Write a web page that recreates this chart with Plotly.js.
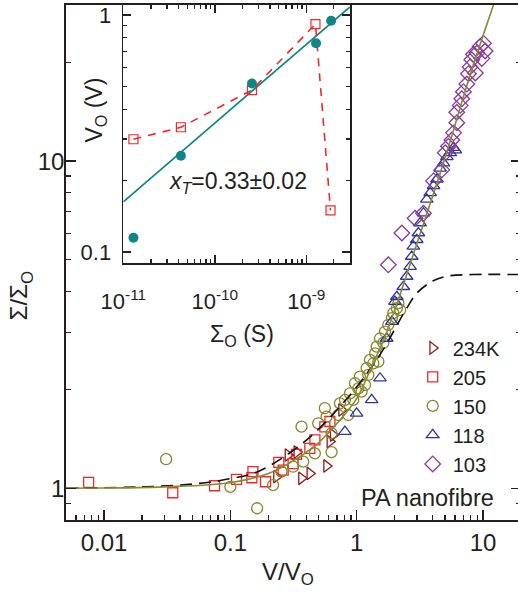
<!DOCTYPE html>
<html>
<head>
<meta charset="utf-8">
<script src="https://cdn.plot.ly/plotly-3.0.1.min.js"></script>
<style>
html,body{margin:0;padding:0;overflow:hidden;background:#fff;}
#chart{width:521px;height:595px;}
</style>
</head>
<body>
<div id="chart"></div>
<script>
// ---------- Main panel data (V/V_O , Σ/Σ_O) ----------
const seriesNames = ["234K", "205", "150", "118", "103"];

const x234 = [0.232, 0.286, 0.336, 0.366, 0.426, 0.578, 0.614, 0.652, 0.76];
const y234 = [1.085, 1.264, 1.29, 1.073, 1.11, 1.17, 1.39, 1.455, 1.735];

const x205 = [0.00755, 0.035, 0.075, 0.112, 0.148, 0.151, 0.19, 0.242, 0.262, 0.314, 0.334, 0.426, 0.467, 0.56, 0.614];
const y205 = [1.043, 0.969, 1.018, 1.065, 1.077, 1.124, 1.047, 1.2, 1.137, 1.19, 1.27, 1.325, 1.405, 1.54, 1.6];

const x150 = [0.031, 0.1, 0.163, 0.218, 0.254, 0.314, 0.377, 0.366, 0.467, 0.496, 0.56, 0.578, 0.633, 0.633,
              0.715, 0.737, 0.808, 0.858, 0.885, 0.94, 0.97, 1.03, 1.06, 1.095, 1.164, 1.2, 1.236, 1.275,
              1.355, 1.4, 1.44, 1.485, 1.53, 1.626, 1.677, 1.78, 1.9, 1.95, 2.08, 2.21, 2.14];
const y150 = [1.227, 1.01, 0.869, 1.023, 1.124, 1.164, 1.206, 1.543, 1.279, 1.58, 1.757, 1.656, 1.473, 1.29,
              1.675, 1.818, 1.864, 1.675, 1.95, 1.864, 2.094, 2.02, 2.195, 1.975, 2.07, 2.33, 2.22, 2.47,
              2.41, 2.585, 2.71, 2.44, 2.87, 2.78, 3.01, 3.16, 3.31, 3.43, 3.55, 3.51, 3.68];

const x118 = [0.807, 1.0, 1.315, 1.53, 1.73, 1.9, 2.01, 2.08, 2.34, 2.49, 2.65, 2.73, 2.81, 2.99, 3.08, 3.18,
              3.38, 3.59, 3.82, 4.06, 4.32, 4.58, 4.87, 5.18, 5.5, 5.85, 6.04];
const y118 = [1.49, 1.695, 1.864, 2.17, 2.87, 3.23, 3.72, 3.85, 4.13, 4.44, 4.76, 5.11, 5.49, 5.75, 6.03, 6.47,
              6.93, 7.64, 8.0, 8.4, 8.8, 9.5, 9.86, 10.3, 10.6, 11.0, 10.8];

const x103 = [1.78, 2.28, 2.9, 3.38, 4.06, 4.72, 5.03, 5.33, 5.67, 5.85, 6.2, 6.2, 6.6, 6.8, 7.0, 7.45, 7.67,
              7.9, 8.16, 8.42, 8.7, 8.95, 9.5, 9.8, 10.1, 10.4];
const y103 = [4.82, 6.03, 6.69, 6.93, 8.7, 9.4, 10.6, 11.1, 11.6, 12.2, 13.1, 14.1, 14.8, 15.5, 16.3, 17.2, 18.5,
              19.4, 20.4, 21.2, 18.6, 21.4, 22.4, 20.6, 22.9, 21.7];

// solid (olive) fit curve
const fitX = [0.005, 0.01, 0.03, 0.1, 0.2, 0.3, 0.5, 0.7, 1.0, 1.3, 1.7, 2.1, 3, 5, 8, 12.1, 13];
const fitY = [1.0, 1.002, 1.01, 1.04, 1.11, 1.2, 1.38, 1.58, 1.88, 2.33, 2.95, 3.7, 5.6, 10.2, 18.6, 30, 32.6];

// dashed (black) curve
const dashX = [0.005, 0.02, 0.05, 0.1, 0.17, 0.375, 0.74, 1.44, 2.49, 3.0, 4.0, 5.2, 8.4, 20];
const dashY = [1.0, 1.01, 1.03, 1.07, 1.13, 1.375, 1.78, 2.47, 3.55, 3.95, 4.3, 4.45, 4.5, 4.5];

// ---------- Inset data (Σ_O , V_O) ----------
const sigmaFilled = [1.29e-11, 4.26e-11, 2.55e-10, 1.28e-9, 1.87e-9];
const vFilled = [0.115, 0.255, 0.514, 0.759, 0.944];
const sigmaOpen = [1.29e-11, 4.26e-11, 2.55e-10, 1.26e-9, 1.84e-9];
const vOpen = [0.299, 0.336, 0.482, 0.914, 0.150];
const powerSigma = [1e-11, 3e-9];
const powerV = [0.163, 1.08];

// tick labels
const mainXTicks = [0.01, 0.1, 1, 10];
const mainXTickText = ["0.01", "0.1", "1", "10"];
const mainYTicks = [1, 10];
const mainYTickText = ["1", "10"];
const insetXTicks = [1e-11, 1e-10, 1e-9];
const insetXTickText = ["10<sup>-11</sup>", "10<sup>-10</sup>", "10<sup>-9</sup>"];
const insetYTicks = [0.1, 1];
const insetYTickText = ["0.1", "1"];

function minorTicks(lo, hi) {
  const out = [];
  for (let e = lo; e <= hi; e++) {
    for (let m = 2; m <= 9; m++) out.push(m * Math.pow(10, e));
  }
  return out;
}

const ink = "#231f20";
const FONT = "Liberation Sans, Arial, sans-serif";

const colors = {
  "234K": "#8e1b1b",
  "205": "#f2262b",
  "150": "#86862c",
  "118": "#2c36a3",
  "103": "#8a3a9c",
  teal: "#108585",
  red: "#f2262b",
  olive: "#8a8a30"
};

const mk = (x, y, name, symbol, size) => ({
  x, y, name, type: "scatter", mode: "markers",
  marker: { symbol, size, color: colors[name], line: { color: colors[name], width: 1.3 } },
  xaxis: "x", yaxis: "y", cliponaxis: true
});

const traces = [
  mk(x234, y234, "234K", "triangle-right-open", 11),
  mk(x205, y205, "205", "square-open", 10),
  mk(x150, y150, "150", "circle-open", 11),
  mk(x118, y118, "118", "triangle-up-open", 11),
  mk(x103, y103, "103", "diamond-open", 12),
  { x: dashX, y: dashY, type: "scatter", mode: "lines", showlegend: false,
    line: { color: "#111", width: 1.6, dash: "12px,7px", shape: "spline" }, xaxis: "x", yaxis: "y" },
  { x: fitX, y: fitY, type: "scatter", mode: "lines", showlegend: false,
    line: { color: colors.olive, width: 1.6, shape: "spline" }, xaxis: "x", yaxis: "y" },
  // inset
  { x: powerSigma, y: powerV, type: "scatter", mode: "lines", showlegend: false,
    line: { color: colors.teal, width: 1.6 }, xaxis: "x2", yaxis: "y2" },
  { x: sigmaOpen, y: vOpen, type: "scatter", mode: "lines+markers", showlegend: false,
    line: { color: colors.red, width: 1.6, dash: "8px,7px" },
    marker: { symbol: "square-open", size: 9, color: colors.red, line: { color: colors.red, width: 1.2 } },
    xaxis: "x2", yaxis: "y2" },
  { x: sigmaFilled, y: vFilled, type: "scatter", mode: "markers", showlegend: false,
    marker: { symbol: "circle", size: 10, color: colors.teal },
    xaxis: "x2", yaxis: "y2" }
];

const axBase = {
  type: "log", showgrid: false, zeroline: false, showline: true,
  linecolor: ink, linewidth: 1.8, ticks: "inside", tickcolor: ink, tickwidth: 1.5,
  tickmode: "array"
};

const layout = {
  width: 521, height: 595,
  margin: { l: 66, r: 0, t: 5, b: 75 },
  paper_bgcolor: "#fff", plot_bgcolor: "rgba(0,0,0,0)",
  font: { family: FONT, color: ink, size: 22 },
  showlegend: true,
  legend: {
    x: 0.762, y: 0.372, xanchor: "left", yanchor: "top",
    bgcolor: "rgba(0,0,0,0)", borderwidth: 0,
    font: { family: FONT, size: 20, color: ink },
    itemsizing: "trace", traceorder: "normal"
  },
  xaxis: Object.assign({}, axBase, {
    domain: [0, 1], anchor: "y",
    range: [Math.log10(0.005), Math.log10(20)],
    mirror: true, ticklen: 10,
    tickvals: mainXTicks, ticktext: mainXTickText,
    tickfont: { family: FONT, size: 24, color: ink },
    minor: { tickmode: "array", tickvals: minorTicks(-3, 1), ticks: "inside", ticklen: 5, tickwidth: 1.3, tickcolor: ink }
  }),
  yaxis: Object.assign({}, axBase, {
    domain: [0, 1], anchor: "x",
    range: [Math.log10(0.8), Math.log10(30)],
    mirror: "ticks", ticklen: 10,
    tickvals: mainYTicks, ticktext: mainYTickText,
    tickfont: { family: FONT, size: 24, color: ink },
    ticklabelstandoff: -5,
    minor: { tickmode: "array", tickvals: minorTicks(-1, 1).concat([0.8, 0.9]), ticks: "inside", ticklen: 5, tickwidth: 1.3, tickcolor: ink }
  }),
  xaxis2: Object.assign({}, axBase, {
    domain: [0.126, 0.624], anchor: "y2",
    range: [-11, Math.log10(3e-9)],
    mirror: "ticks", ticklen: 8,
    tickvals: insetXTicks, ticktext: insetXTickText,
    tickfont: { family: FONT, size: 22, color: ink },
    ticklabelstandoff: 18,
    minor: { tickmode: "array", tickvals: minorTicks(-11, -9), ticks: "inside", ticklen: 4, tickwidth: 1.3, tickcolor: ink }
  }),
  yaxis2: Object.assign({}, axBase, {
    domain: [0.499, 1], anchor: "x2",
    range: [Math.log10(0.09), Math.log10(1.1)],
    mirror: "ticks", ticklen: 8,
    tickvals: insetYTicks, ticktext: insetYTickText,
    tickfont: { family: FONT, size: 22, color: ink },
    ticklabelstandoff: 6,
    minor: { tickmode: "array", tickvals: minorTicks(-2, 0), ticks: "inside", ticklen: 4, tickwidth: 1.3, tickcolor: ink }
  }),
  annotations: [
    { xref: "paper", yref: "paper", x: 0.487, y: -0.103, xanchor: "center", yanchor: "middle",
      text: "V/V<sub>O</sub>", showarrow: false, font: { family: FONT, size: 24, color: ink } },
    { xref: "paper", yref: "paper", x: -0.099, y: 0.436, xanchor: "center", yanchor: "middle", textangle: -90,
      text: "Σ/Σ<sub>O</sub>", showarrow: false, font: { family: FONT, size: 24, color: ink } },
    { xref: "paper", yref: "paper", x: 0.066, y: 0.795, xanchor: "center", yanchor: "middle", textangle: -90,
      text: "V<sub>O</sub> (V)", showarrow: false, font: { family: FONT, size: 23, color: ink } },
    { xref: "paper", yref: "paper", x: 0.387, y: 0.359, xanchor: "center", yanchor: "middle",
      text: "Σ<sub>O</sub> (S)", showarrow: false, font: { family: FONT, size: 23, color: ink } },
    { xref: "paper", yref: "paper", x: 0.222, y: 0.655, xanchor: "left", yanchor: "middle",
      text: "<i>x</i><sub><i>T</i></sub>=0.33±0.02", showarrow: false, font: { family: FONT, size: 23, color: ink } },
    { xref: "paper", yref: "paper", x: 0.643, y: 0.043, xanchor: "left", yanchor: "middle",
      text: "PA nanofibre", showarrow: false, font: { family: FONT, size: 23.5, color: ink } }
  ]
};

Plotly.newPlot("chart", traces, layout, { displayModeBar: false, staticPlot: true });
</script>
</body>
</html>
